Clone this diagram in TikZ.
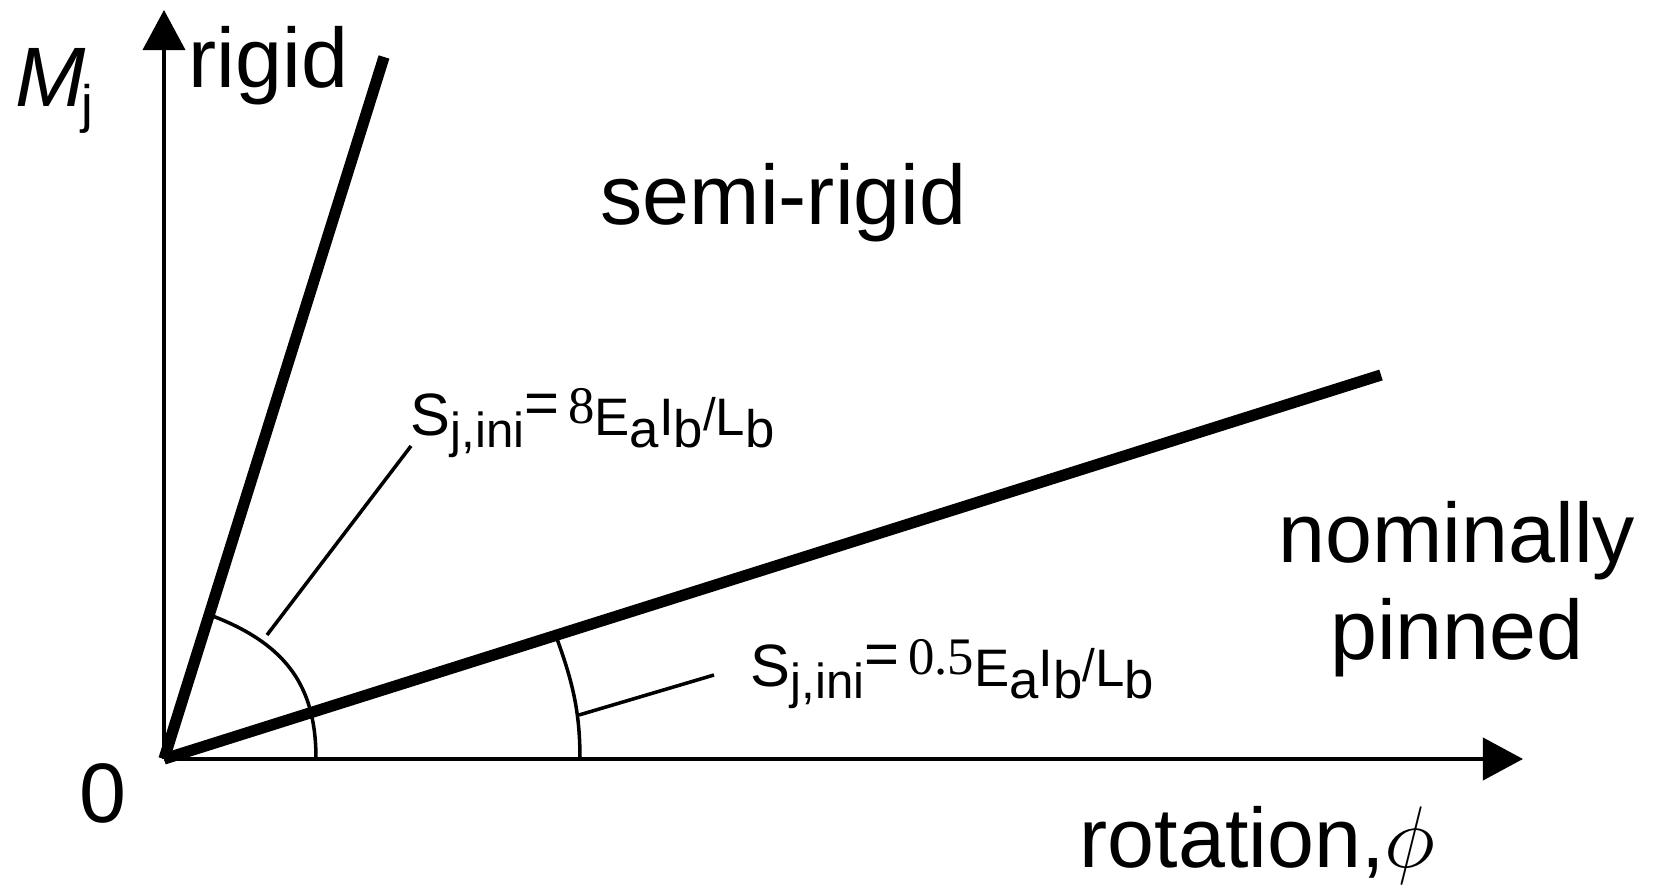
\documentclass[tikz,border=0pt]{standalone}
\usepackage{fontspec}
\setmainfont{Liberation Sans}
\newfontfamily\timesfont{Liberation Serif}
\usetikzlibrary{arrows.meta}

\newcommand{\stiffness}[1]{%
  {\fontsize{17}{17}\selectfont S}%
  \raisebox{-0.11cm}{\fontsize{14}{14}\selectfont j,ini}%
  \raisebox{0.12cm}{\fontsize{17}{17}\selectfont =}%
  \raisebox{0.12cm}{\fontsize{15}{15}\selectfont\timesfont\,#1}%
  {\fontsize{15}{15}\selectfont E}%
  \raisebox{-0.11cm}{\fontsize{15}{15}\selectfont a}%
  {\fontsize{15}{15}\selectfont I}%
  \raisebox{-0.11cm}{\fontsize{15}{15}\selectfont b}%
  \raisebox{0.05cm}{\fontsize{13}{13}\selectfont /}%
  {\fontsize{15}{15}\selectfont L}%
  \raisebox{-0.11cm}{\fontsize{15}{15}\selectfont b}}

\begin{document}
\begin{tikzpicture}[
  x=0.01cm, y=-0.01cm,
  axis/.style={line width=1.1pt, -{Triangle[length=0.4cm, width=0.42cm]}},
  stiff/.style={line width=3.2pt},
  angle/.style={line width=1pt},
  leader/.style={line width=1pt},
  label/.style={inner sep=0pt, font=\fontsize{24}{24}\selectfont},
  stifflabel/.style={inner sep=0pt, anchor=base west}
]
\useasboundingbox (0,0) rectangle (1653,891);

\coordinate (O) at (164,759);
\coordinate (xtip) at (1523,759);
\coordinate (ytip) at (164,10);
\coordinate (rigidend) at (384,57);
\coordinate (pinnedend) at (1381,375);

\draw[axis] (O) -- (xtip);
\draw[axis] (O) -- (ytip);
\draw[stiff] (O) -- (rigidend);
\draw[stiff] (O) -- (pinnedend);

\draw[angle] (210,615) .. controls (290,645) and (316,690) .. (316,759);
\draw[angle] (556,636) .. controls (572,680) and (580,710) .. (580,759);

\node[label, anchor=base west] (mj) at (15,107) {\itshape M\kern-0.05cm\raisebox{-0.15cm}{\fontsize{15}{15}\selectfont\upshape j}};
\node[label, anchor=base west] (rigid) at (188,88) {rigid};
\node[label, anchor=base west] (semi) at (600,225) {semi-rigid};
\node[label, anchor=base] (nom) at (1457,563) {nominally};
\node[label, anchor=base] (pin) at (1457,660) {pinned};
\node[label, anchor=base west] (zero) at (79,823) {0};
\node[label, anchor=base west] (rot) at (1079,868) {rotation,$\phi$};

\node[stifflabel] (s1) at (410,436) {\stiffness{8}};
\node[stifflabel] (s2) at (750,687) {\stiffness{0.5}};

\coordinate (lo1) at (267,635);
\coordinate (hi1) at (411,446);
\coordinate (lo2) at (579,715);
\coordinate (hi2) at (714,675);
\draw[leader] (lo1) -- (hi1);
\draw[leader] (lo2) -- (hi2);
\end{tikzpicture}
\end{document}
